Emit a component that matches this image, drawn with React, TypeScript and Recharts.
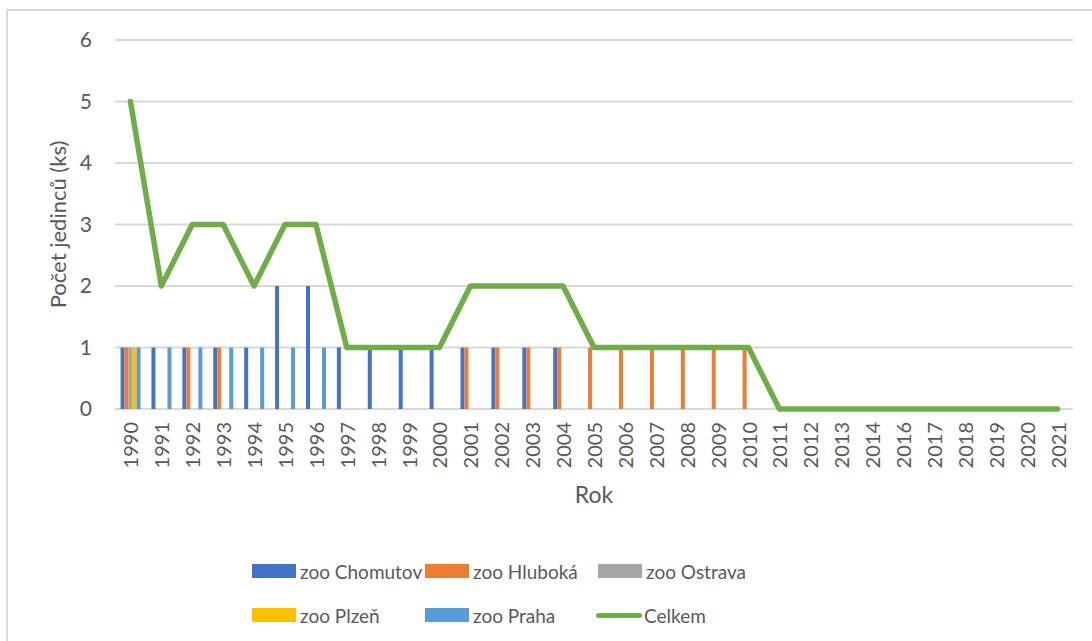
import React from 'react';
import { ComposedChart, Bar, Line, XAxis, YAxis, CartesianGrid, Label } from 'recharts';

const years = ['1990','1991','1992','1993','1994','1995','1996','1997','1998','1999','2000','2001','2002','2003','2004','2005','2006','2007','2008','2009','2010','2011','2012','2013','2014','2016','2017','2018','2019','2020','2021'];
const chomutov = [1,1,1,1,1,2,2,1,1,1,1,1,1,1,1,0,0,0,0,0,0,0,0,0,0,0,0,0,0,0,0];
const hluboka  = [1,0,1,1,0,0,0,0,0,0,0,1,1,1,1,1,1,1,1,1,1,0,0,0,0,0,0,0,0,0,0];
const ostrava  = [1,0,0,0,0,0,0,0,0,0,0,0,0,0,0,0,0,0,0,0,0,0,0,0,0,0,0,0,0,0,0];
const plzen    = [1,0,0,0,0,0,0,0,0,0,0,0,0,0,0,0,0,0,0,0,0,0,0,0,0,0,0,0,0,0,0];
const praha    = [1,1,1,1,1,1,1,0,0,0,0,0,0,0,0,0,0,0,0,0,0,0,0,0,0,0,0,0,0,0,0];
const celkem   = [5,2,3,3,2,3,3,1,1,1,1,2,2,2,2,1,1,1,1,1,1,0,0,0,0,0,0,0,0,0,0];
const yTicks = [0,1,2,3,4,5,6];

const data = years.map((y, i) => ({
  rok: y,
  chomutov: chomutov[i],
  hluboka: hluboka[i],
  ostrava: ostrava[i],
  plzen: plzen[i],
  praha: praha[i],
  celkem: celkem[i],
}));

const FONT = 'Lato, "Open Sans", sans-serif';
const TXT = '#595959';

const legendItems = [
  { name: 'zoo Chomutov', color: '#4472c4', type: 'bar' },
  { name: 'zoo Hluboká', color: '#ed7d31', type: 'bar' },
  { name: 'zoo Ostrava', color: '#a5a5a5', type: 'bar' },
  { name: 'zoo Plzeň', color: '#ffc000', type: 'bar' },
  { name: 'zoo Praha', color: '#5b9bd5', type: 'bar' },
  { name: 'Celkem', color: '#70ad47', type: 'line' },
];

const XTick = (props: any) => {
  const { x, y, payload } = props;
  return (
    <text x={x} y={y} transform={`rotate(-90, ${x}, ${y})`} textAnchor="end" dominantBaseline="central"
      fill={TXT} fontSize={20} fontFamily={FONT}>{payload.value}</text>
  );
};

export default function App() {
  return (
    <div style={{ position: 'absolute', left: 0, top: 0, width: 1092, height: 641, background: '#fff', overflow: 'hidden', fontFamily: FONT }}>
      <div style={{ position: 'absolute', left: 6, top: 9, width: 1100, height: 700, border: '2px solid #d9d9d9', boxSizing: 'border-box' }} />
      <div style={{ position: 'absolute', left: 0, top: 0 }}>
        <ComposedChart width={1092} height={641} data={data}
          margin={{ top: 40, right: 19, left: 0, bottom: 0 }}
          barCategoryGap="18%" barGap={0}>
          <CartesianGrid horizontal vertical={false} stroke="#d9d9d9" strokeWidth={2} />
          <XAxis dataKey="rok" height={232} interval={0} tickLine={false}
            axisLine={false} tick={<XTick />} tickSize={0} tickMargin={13}>
            <Label value="Rok" position="insideTop" offset={78} fill={TXT} fontSize={23} fontFamily={FONT} />
          </XAxis>
          <YAxis width={115} domain={[0, 6]} ticks={yTicks} interval={0} axisLine={false} tickLine={false}
            tickSize={0} tickMargin={23} tick={{ fill: TXT, fontSize: 21, fontFamily: FONT }}>
            <Label content={(p: any) => {
              const vb = p.viewBox;
              const cx = 57;
              const cy = vb.y + vb.height / 2;
              return (
                <text x={cx} y={cy} transform={`rotate(-90, ${cx}, ${cy})`} textAnchor="middle" dominantBaseline="central"
                  fill={TXT} fontSize={22} fontFamily={FONT}>Počet jedinců (ks)</text>
              );
            }} />
          </YAxis>
          <Bar dataKey="chomutov" name="zoo Chomutov" fill="#4472c4" isAnimationActive={false} />
          <Bar dataKey="hluboka" name="zoo Hluboká" fill="#ed7d31" isAnimationActive={false} />
          <Bar dataKey="ostrava" name="zoo Ostrava" fill="#a5a5a5" isAnimationActive={false} />
          <Bar dataKey="plzen" name="zoo Plzeň" fill="#ffc000" isAnimationActive={false} />
          <Bar dataKey="praha" name="zoo Praha" fill="#5b9bd5" isAnimationActive={false} />
          <Line dataKey="celkem" name="Celkem" type="linear" stroke="#70ad47" strokeWidth={5.5} dot={false}
            activeDot={false} isAnimationActive={false} strokeLinejoin="round" strokeLinecap="round" />
        </ComposedChart>
      </div>
      {legendItems.map((it, i) => {
        const col = i % 3;
        const row = Math.floor(i / 3);
        const left = 252 + col * 173;
        const top = 560 + row * 44;
        return (
          <div key={it.name} style={{ position: 'absolute', left, top, height: 22, display: 'flex', alignItems: 'center', whiteSpace: 'nowrap' }}>
            {it.type === 'bar' ? (
              <div style={{ width: 44, height: 14, background: it.color, marginRight: 4 }} />
            ) : (
              <div style={{ width: 46, height: 5, background: it.color, borderRadius: 3, marginLeft: -2, marginRight: 2 }} />
            )}
            <span style={{ color: TXT, fontSize: 19, fontFamily: FONT }}>{it.name}</span>
          </div>
        );
      })}
    </div>
  );
}
